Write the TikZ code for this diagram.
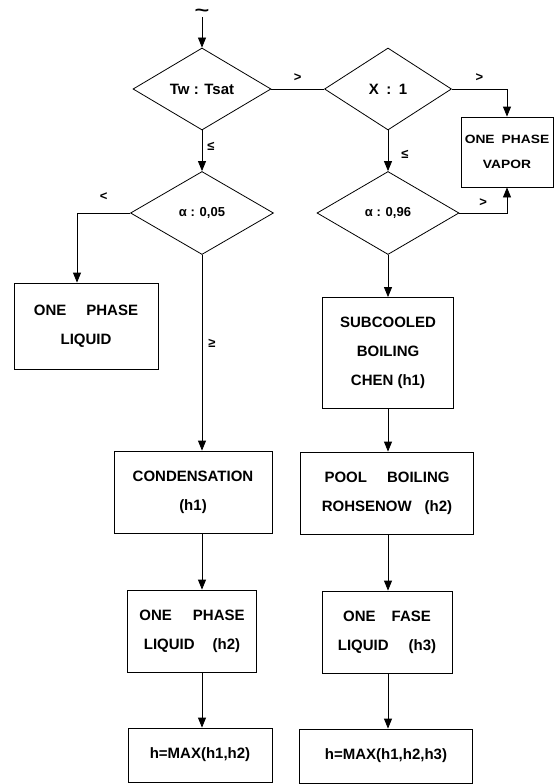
\documentclass[tikz,border=0pt]{standalone}
\usepackage{fontspec}
\setmainfont{Liberation Sans}
\usepackage{tikz}
\usetikzlibrary{shapes.geometric,arrows.meta}

\begin{document}
\begin{tikzpicture}[x=1pt,y=-1pt,
    block/.style={draw,line width=0.8pt,rectangle,align=center,inner sep=0pt,font=\fontsize{15}{29}\selectfont\bfseries},
    decision/.style={draw,line width=0.8pt,diamond,inner sep=0pt,font=\fontsize{15}{18}\selectfont\bfseries},
    flow/.style={line width=0.8pt,-{Triangle[length=10pt,width=8pt]}},
    link/.style={line width=0.8pt},
    sign/.style={font=\fontsize{13}{15}\selectfont\bfseries,inner sep=1pt}]
    \useasboundingbox (0,0) rectangle (554,784);
    % decisions
        \node (start) [anchor=south,inner sep=0pt,font=\fontsize{18}{18}\selectfont\bfseries] at (202,17) {\scalebox{1.4}[1]{\textasciitilde}};
        \node (tw) [decision,minimum width=138pt,minimum height=82pt] at (202,89) {Tw : Tsat};
        \node (x1) [decision,minimum width=127pt,minimum height=82pt] at (388,89) {X\enspace:\enspace1};
        \node (a05) [decision,minimum width=143pt,minimum height=83pt,font=\fontsize{13}{15}\selectfont\bfseries] at (202,213) {α : 0,05};
        \node (a96) [decision,minimum width=142pt,minimum height=83pt,font=\fontsize{13}{15}\selectfont\bfseries] at (388,213) {α : 0,96};
    % boxes
        \node (liq1) [block,minimum width=144pt,minimum height=86pt] at (86,326) {ONE\hspace{20pt}PHASE\\LIQUID};
        \node (vapor) [block,minimum width=92pt,minimum height=70pt,font=\fontsize{12}{25}\selectfont\bfseries\addfontfeature{FakeStretch=1.15}] at (507,152) {ONE\hspace{7pt}PHASE\\VAPOR};
        \node (sub) [block,minimum width=131pt,minimum height=111pt] at (388,353) {SUBCOOLED\\BOILING\\CHEN (h1)};
        \node (cond) [block,minimum width=158pt,minimum height=82pt] at (193,492) {CONDENSATION\\(h1)};
        \node (pool) [block,minimum width=173pt,minimum height=82pt] at (387,493) {POOL\hspace{20pt}BOILING\\ROHSENOW\hspace{13pt}(h2)};
        \node (liq2) [block,minimum width=129pt,minimum height=82pt] at (192,631) {ONE\hspace{21pt}PHASE\\LIQUID\hspace{18pt}(h2)};
        \node (fase) [block,minimum width=130pt,minimum height=82pt] at (387,632) {ONE\hspace{16pt}FASE\\LIQUID\hspace{20pt}(h3)};
        \node (max2) [block,minimum width=144pt,minimum height=54pt] at (200,755) {h=MAX(h1,h2)};
        \node (max3) [block,minimum width=173pt,minimum height=54pt] at (386,756) {h=MAX(h1,h2,h3)};
    % top row
        \draw[flow] (start.south) -- (tw.north);
        \draw[link] (tw.east) -- node[sign,above=6pt] {>} (x1.west);
        \draw[flow] (x1.east) -| node[sign,pos=0.25,above=6pt] {>} (vapor.north);
    % second row
        \draw[flow] (tw.south) -- node[sign,right=4pt,pos=0.4] {≤} (a05.north);
        \draw[flow] (x1.south) -- node[sign,right=12pt,pos=0.6] {≤} (a96.north);
        \draw[flow] (a96.east) -| node[sign,pos=0.25,above=5pt] {>} (vapor.south);
        \draw[flow] (a05.west) -| node[sign,pos=0.25,above=11pt] {<} ([xshift=-9pt]liq1.north);
    % left column
        \draw[flow] (a05.south) -- node[sign,right=5pt,pos=0.45] {≥} (a05.south |- cond.north);
        \draw[flow] (cond.south -| a05) -- (liq2.north -| a05);
        \draw[flow] (liq2.south -| a05) -- (max2.north -| a05);
    % right column
        \draw[flow] (a96.south) -- (a96.south |- sub.north);
        \draw[flow] (sub.south -| a96) -- (pool.north -| a96);
        \draw[flow] (pool.south -| a96) -- (fase.north -| a96);
        \draw[flow] (fase.south -| a96) -- (max3.north -| a96);
\end{tikzpicture}
\end{document}
